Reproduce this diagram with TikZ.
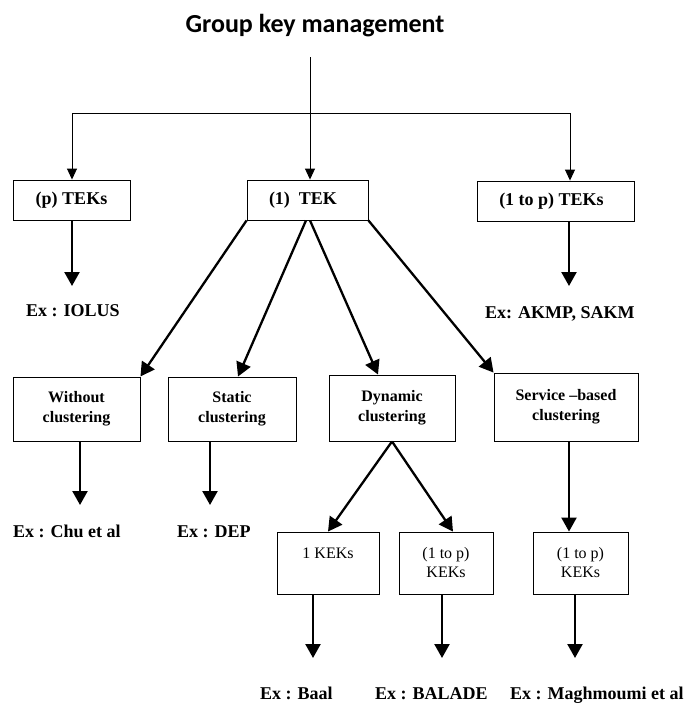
\documentclass[tikz,border=0pt]{standalone}
\usepackage{fontspec}
\setmainfont{Liberation Serif}
\newfontfamily\titlefont{Carlito}
\usetikzlibrary{arrows.meta}
\begin{document}
\begin{tikzpicture}[x=1pt,y=-1pt,
  frame/.style={draw, line width=0.9pt, inner sep=0pt, align=center},
  topbox/.style={frame, font=\fontsize{18}{21}\selectfont\bfseries},
  midbox/.style={frame, font=\fontsize{16}{20}\selectfont\bfseries},
  lowbox/.style={frame, font=\fontsize{16}{19}\selectfont},
  lbl/.style={inner sep=0pt, font=\fontsize{18}{21}\selectfont\bfseries},
  thinline/.style={line width=0.9pt},
  thinarrow/.style={line width=0.9pt, -{Triangle[length=11pt,width=10pt]}},
  thickarrow/.style={line width=2.3pt, -{Triangle[length=14pt,width=15pt]}}
]
\useasboundingbox (0,0) rectangle (689,704);

% heading
\node[inner sep=0pt, anchor=base, font=\titlefont\fontsize{26}{30}\selectfont\bfseries]
  (title) at (315,32) {Group key management};

% first level: traffic encryption keys
\node[topbox, minimum width=117pt, minimum height=40pt] (pteks) at (71.5,200) {(p) TEKs};
\node[topbox, minimum width=121pt, minimum height=40pt] (tek1) at (307.5,200) {\hspace*{-9pt}(1)\ \ TEK};
\node[topbox, minimum width=157pt, minimum height=40pt] (tekp) at (555.5,201) {\hspace*{-8pt}(1 to p) TEKs};

% second level: clustering approaches
\node[midbox, minimum width=127pt, minimum height=64pt] (without) at (76.5,409) {Without\\clustering};
\node[midbox, minimum width=128pt, minimum height=64pt] (static) at (232,409) {Static\\clustering};
\node[midbox, minimum width=126pt, minimum height=66pt] (dynamic) at (392,408) {Dynamic\\clustering};
\node[midbox, minimum width=144pt, minimum height=68pt] (service) at (566,407) {Service --based\\clustering};

% third level: key encryption keys
\node[lowbox, minimum width=102pt, minimum height=62pt] (kek1) at (328,563) {1 KEKs\\\phantom{KEKs}};
\node[lowbox, minimum width=94pt, minimum height=62pt] (kekp) at (446,563) {(1 to p)\\KEKs};
\node[lowbox, minimum width=95pt, minimum height=62pt] (kekq) at (580.5,563) {(1 to p)\\KEKs};

% examples
\node[lbl, anchor=base west] (iolus) at (26,316) {Ex : IOLUS};
\node[lbl, anchor=base west] (akmp) at (485,318) {Ex: AKMP, SAKM};
\node[lbl, anchor=base west] (chu) at (13,537) {Ex : Chu et al};
\node[lbl, anchor=base west] (dep) at (177,537) {Ex : DEP};
\node[lbl, anchor=base west] (baal) at (260,699) {Ex : Baal};
\node[lbl, anchor=base west] (balade) at (375,699) {Ex : BALADE};
\node[lbl, anchor=base west] (magh) at (510,699) {Ex : Maghmoumi et al};

% distribution from the heading
\coordinate (top) at (310,57);
\coordinate (hl) at (72,113);
\coordinate (hr) at (570,113);
\draw[thinline] (hl) -- (hr);
\draw[thinarrow] (top) -- (top |- tek1.north);
\draw[thinarrow] (hl) -- (hl |- pteks.north);
\draw[thinarrow] (hr) -- (hr |- tekp.north);

% free ends of the example arrows
\coordinate (e1) at (72,286);
\coordinate (e2) at (569,286);
\coordinate (e3) at (80,505);
\coordinate (e4) at (210,505);
\coordinate (e5) at (313,658);
\coordinate (e6) at (442,658);
\coordinate (e7) at (575,658);

\draw[thickarrow] (e1 |- pteks.south) -- (e1);
\draw[thickarrow] (e2 |- tekp.south) -- (e2);

% (1) TEK branches
\draw[thickarrow] (tek1.south west) -- (without.north east);
\draw[thickarrow] ([xshift=-1.5pt]tek1.south) -- ([xshift=6pt]static.north);
\draw[thickarrow] ([xshift=2.5pt]tek1.south) -- ([xshift=-14pt]dynamic.north);
\draw[thickarrow] (tek1.south east) -- (service.north west);

\draw[thickarrow] (e3 |- without.south) -- (e3);
\draw[thickarrow] (e4 |- static.south) -- (e4);

% dynamic and service-based clustering
\draw[thickarrow] (dynamic.south) -- (kek1.north);
\draw[thickarrow] (dynamic.south) -- ([xshift=7pt]kekp.north);
\draw[thickarrow] ([xshift=3pt]service.south) -- ([xshift=-11.5pt]kekq.north);

\draw[thickarrow] (e5 |- kek1.south) -- (e5);
\draw[thickarrow] (e6 |- kekp.south) -- (e6);
\draw[thickarrow] (e7 |- kekq.south) -- (e7);
\end{tikzpicture}
\end{document}
